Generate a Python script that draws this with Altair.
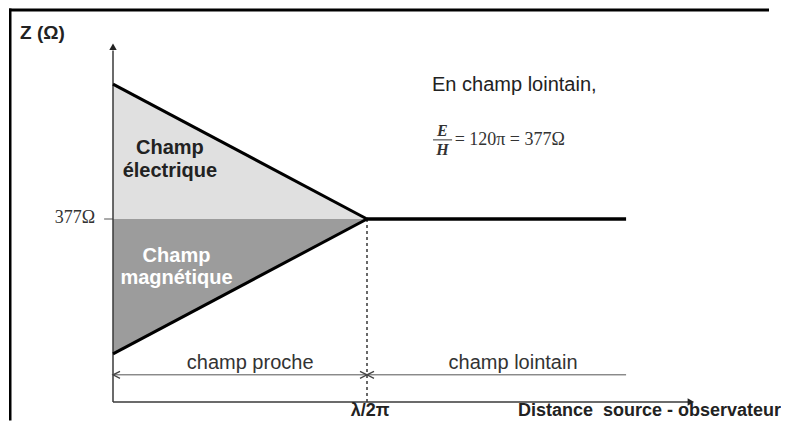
import altair as alt
import pandas as pd

# ---- data (distance in units of lambda/2pi, impedance Z in ohm-like units) ----
Z0 = 377
near_x = [0.0, 1.0]          # champ proche : 0 -> lambda/2pi
elec_z = [655, 377]          # impedance, champ electrique dominant
magn_z = [99, 377]           # impedance, champ magnetique dominant
far_x = [1.0, 2.02]          # champ lointain
far_z = [377, 377]

y_axis_top = 732             # top of the Z axis (arrow)
x_axis_end = 2.275           # end of the distance axis (arrow)
dim_z = 56                   # level of the "champ proche / lointain" dimension lines

# ---- layout ----
W, H = 773, 413
PX_PER_X = 254.0
PX_PER_Z = 183.0 / 377.0
X_DOMAIN = [-105 / PX_PER_X, (W - 105) / PX_PER_X]
Y_DOMAIN = [(394 - H) / PX_PER_Z, 394 / PX_PER_Z]

xs = alt.Scale(domain=X_DOMAIN, nice=False, zero=False)
ys = alt.Scale(domain=Y_DOMAIN, nice=False, zero=False)


def ex(f="x"):
    return alt.X(f"{f}:Q", scale=xs, axis=None)


def ey(f="y"):
    return alt.Y(f"{f}:Q", scale=ys, axis=None)


SANS = "Liberation Sans"
SERIF = "Liberation Serif"

# filled regions
df_e = pd.DataFrame({"x": near_x, "y": elec_z, "y2": [Z0, Z0]})
df_h = pd.DataFrame({"x": near_x, "y": [Z0, Z0], "y2": magn_z})
area_e = alt.Chart(df_e).mark_area(color="#e0e0e0").encode(x=ex(), y=ey(), y2="y2:Q")
area_h = alt.Chart(df_h).mark_area(color="#9c9c9c").encode(x=ex(), y=ey(), y2="y2:Q")

# impedance curves
line_e = alt.Chart(pd.DataFrame({"x": near_x, "y": elec_z})).mark_line(
    color="black", strokeWidth=3).encode(x=ex(), y=ey())
line_h = alt.Chart(pd.DataFrame({"x": near_x, "y": magn_z})).mark_line(
    color="black", strokeWidth=3).encode(x=ex(), y=ey())
line_far = alt.Chart(pd.DataFrame({"x": far_x, "y": far_z})).mark_line(
    color="black", strokeWidth=3.5).encode(x=ex(), y=ey())

# axes
y_axis = alt.Chart(pd.DataFrame({"x": [0.0], "y": [0.0], "y2": [y_axis_top - 8]})).mark_rule(
    color="#3a3a3a", strokeWidth=1.5).encode(x=ex(), y=ey(), y2="y2:Q")
x_axis = alt.Chart(pd.DataFrame({"x": [0.0], "x2": [x_axis_end - 0.01], "y": [0.0]})).mark_rule(
    color="#3a3a3a", strokeWidth=1.5).encode(x=ex(), x2="x2:Q", y=ey())

tick = alt.Chart(pd.DataFrame({"x": [-0.035], "x2": [0.0], "y": [Z0]})).mark_rule(
    color="#555555", strokeWidth=1).encode(x=ex(), x2="x2:Q", y=ey())

dashed = alt.Chart(pd.DataFrame({"x": [1.0], "y": [Z0], "y2": [-6]})).mark_rule(
    color="#444444", strokeWidth=1.6, strokeDash=[3, 3]).encode(x=ex(), y=ey(), y2="y2:Q")

dims = alt.Chart(pd.DataFrame({"x": [0.0, 1.0], "x2": [1.0, far_x[1]],
                               "y": [dim_z, dim_z]})).mark_rule(
    color="#555555", strokeWidth=1).encode(x=ex(), x2="x2:Q", y=ey())

# frame: top edge and left edge, as thin filled rectangles
frame_top = alt.Chart(pd.DataFrame({
    "x": [X_DOMAIN[0] + 1 / PX_PER_X], "x2": [X_DOMAIN[1] - 12 / PX_PER_X],
    "y": [Y_DOMAIN[1] - 0.5 / PX_PER_Z], "y2": [Y_DOMAIN[1] - 3.5 / PX_PER_Z],
})).mark_rect(color="black", strokeWidth=0).encode(x=ex(), x2="x2:Q", y=ey(), y2="y2:Q")
frame_left = alt.Chart(pd.DataFrame({
    "x": [X_DOMAIN[0] + 1 / PX_PER_X], "x2": [X_DOMAIN[0] + 3.5 / PX_PER_X],
    "y": [Y_DOMAIN[0] + 0.5 / PX_PER_Z], "y2": [Y_DOMAIN[1] - 0.5 / PX_PER_Z],
})).mark_rect(color="black", strokeWidth=0).encode(x=ex(), x2="x2:Q", y=ey(), y2="y2:Q")

# arrowheads
LEFT = "M1,-0.5L0,0L1,0.5"
RIGHT = "M-1,-0.5L0,0L-1,0.5"
arr_l = alt.Chart(pd.DataFrame({"x": [0.0, 1.0], "y": [dim_z, dim_z]})).mark_point(
    shape=LEFT, filled=False, size=196, color="#444444", strokeWidth=1.3, opacity=1
).encode(x=ex(), y=ey())
arr_r = alt.Chart(pd.DataFrame({"x": [1.0], "y": [dim_z]})).mark_point(
    shape=RIGHT, filled=False, size=196, color="#444444", strokeWidth=1.3, opacity=1
).encode(x=ex(), y=ey())
arr_up = alt.Chart(pd.DataFrame({"x": [0.0], "y": [y_axis_top]})).mark_point(
    shape="triangle-up", filled=True, size=55, color="#222222", opacity=1
).encode(x=ex(), y=ey())
arr_rt = alt.Chart(pd.DataFrame({"x": [x_axis_end], "y": [0]})).mark_point(
    shape="triangle-right", filled=True, size=55, color="#222222", opacity=1
).encode(x=ex(), y=ey())

# fraction bar of the formula
frac = alt.Chart(pd.DataFrame({"x": [1.26], "x2": [1.335], "y": [540]})).mark_rule(
    color="#333333", strokeWidth=1).encode(x=ex(), x2="x2:Q", y=ey())


def txt(df, **kw):
    base = dict(baseline="middle", opacity=1)
    base.update(kw)
    return alt.Chart(df).mark_text(**base).encode(x=ex(), y=ey(), text="t:N")


t_z = txt(pd.DataFrame({"x": [-0.366], "y": [760], "t": ["Z (Ω)"]}),
          font=SANS, fontSize=19, fontWeight="bold", align="left", color="#222222")
t_377 = txt(pd.DataFrame({"x": [-0.07], "y": [Z0 + 3], "t": ["377Ω"]}),
            font=SERIF, fontSize=18, align="right", color="#333333")
t_elec = txt(pd.DataFrame({"x": [0.224, 0.224], "y": [523, 476],
                           "t": ["Champ", "électrique"]}),
             font=SANS, fontSize=20, fontWeight="bold", align="center", color="#222222")
t_magn = txt(pd.DataFrame({"x": [0.25, 0.25], "y": [301, 256],
                           "t": ["Champ", "magnétique"]}),
             font=SANS, fontSize=20, fontWeight="bold", align="center", color="white")
t_far = txt(pd.DataFrame({"x": [1.256], "y": [653], "t": ["En champ lointain,"]}),
            font=SANS, fontSize=20, align="left", color="#222222")
t_eh = txt(pd.DataFrame({"x": [1.297, 1.297], "y": [558, 520], "t": ["E", "H"]}),
           font=SERIF, fontSize=16, fontStyle="italic", fontWeight="bold",
           align="center", color="#333333")
t_eq = txt(pd.DataFrame({"x": [1.345], "y": [540], "t": ["= 120π = 377Ω"]}),
           font=SERIF, fontSize=18, align="left", color="#333333")
t_dim = txt(pd.DataFrame({"x": [0.54, 1.575], "y": [81, 81],
                          "t": ["champ proche", "champ lointain"]}),
            font=SANS, fontSize=20, align="center", color="#333333")
t_lam = txt(pd.DataFrame({"x": [1.012], "y": [-19], "t": ["λ/2π"]}),
            font=SANS, fontSize=18, fontWeight="bold", align="center", color="#222222")
t_dist = txt(pd.DataFrame({"x": [1.594], "y": [-19],
                           "t": ["Distance\u00a0 source - observateur"]}),
             font=SANS, fontSize=18, fontWeight="bold", align="left", color="#222222")

chart = alt.layer(
    area_e, area_h, dashed, dims, tick, y_axis, x_axis, line_e, line_h, line_far,
    frame_top, frame_left, arr_l, arr_r, arr_up, arr_rt, frac,
    t_z, t_377, t_elec, t_magn, t_far, t_eh, t_eq, t_dim, t_lam, t_dist,
).properties(
    width=W, height=H, padding=0, autosize=alt.AutoSizeParams(type="none"),
    background="white",
).configure_view(stroke=None)

chart.save("out.html", embed_options={"renderer": "svg", "actions": False})
